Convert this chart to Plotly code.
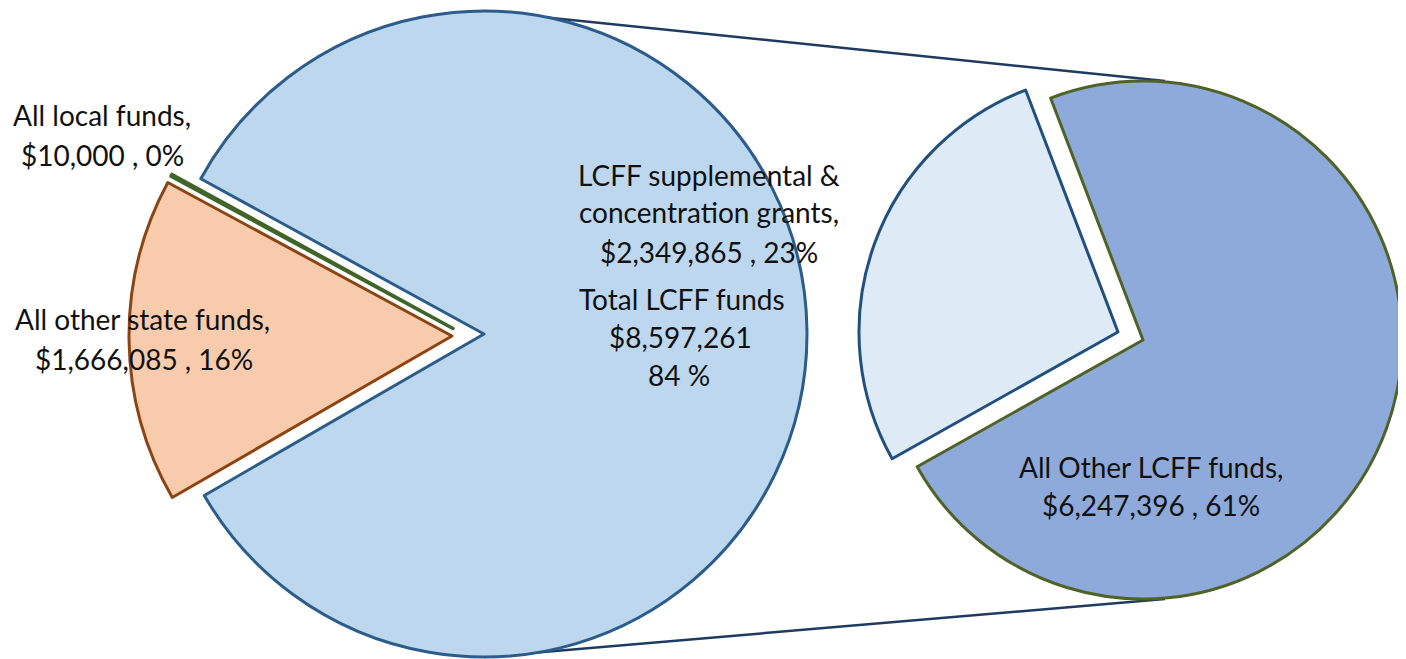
import plotly.graph_objects as go

# page body has an 8px margin; positions below are window pixels and get shifted
OFF = 8
WIN_W, WIN_H = 1406, 659
W, H = WIN_W - OFF, WIN_H - OFF

# ---- data ----
left_labels = ["Total LCFF funds", "All other state funds", "All local funds"]
left_values = [8597261, 1666085, 10000]
right_labels = ["All Other LCFF funds", "LCFF supplemental & concentration grants"]
right_values = [6247396, 2349865]

# label text lines: (text, center-x px, middle-y px)
label_lines = [
    ("All local funds,", 102, 115),
    ("$10,000 , 0%", 102, 155),
    ("All other state funds,", 142, 319),
    ("$1,666,085 , 16%", 144, 359),
    ("LCFF supplemental &", 709, 175),
    ("concentration grants,", 709, 212),
    ("$2,349,865 , 23%", 709, 252),
    ("Total LCFF funds", 682, 299),
    ("$8,597,261", 680, 337),
    ("84 %", 679, 375),
    ("All Other LCFF funds,", 1151, 467),
    ("$6,247,396 , 61%", 1151, 505),
]

# ---- styles ----
TR = "rgba(0,0,0,0)"
blue_fill, blue_line = "#BDD7EE", "#2B5C8A"
orange_fill, orange_line = "#F8CBAD", "#8B4513"
green_line = "#3F6628"
light_fill, light_line = "#DEEBF7", "#22507E"
dark_fill, dark_line = "#8EAADB", "#4F6228"
LW = 3
FONT = dict(family="Lato", size=28, color="#111111")


def px(x):
    return (x - OFF) / W


def py(y):
    return 1 - (y - OFF) / H


def dom(cx, cy, r):
    return dict(x=[px(cx - r), px(cx + r)], y=[py(cy + r), py(cy - r)])


left_total = sum(left_values)
left_rot = 240 - 360 * left_values[0] / left_total
right_total = sum(right_values)
right_rot = 240.7 - 360 * right_values[0] / right_total

fig = go.Figure()

left_parts = [
    ((484, 334), 323, [blue_fill, TR, TR], [blue_line, TR, TR], [LW, 0, 0]),
    ((452, 336), 323, [TR, orange_fill, TR], [TR, orange_line, TR], [0, LW, 0]),
    ((453, 328.5), 320.5, [TR, TR, "#5A7F3A"], [TR, TR, green_line], [0, 0, 3.5]),
]
for (cx, cy), r, fills, lines, widths in left_parts:
    fig.add_trace(go.Pie(
        labels=left_labels, values=left_values, sort=False, direction="clockwise",
        rotation=left_rot, domain=dom(cx, cy, r), textinfo="none", hoverinfo="label+value+percent",
        marker=dict(colors=fills, line=dict(color=lines, width=widths)), showlegend=False,
    ))

RR = 259
right_parts = [
    ((1143, 340), [dark_fill, TR], [dark_line, TR], [LW, 0]),
    ((1118, 332), [TR, light_fill], [TR, light_line], [0, LW]),
]
for (cx, cy), fills, lines, widths in right_parts:
    fig.add_trace(go.Pie(
        labels=right_labels, values=right_values, sort=False, direction="clockwise",
        rotation=right_rot, domain=dom(cx, cy, RR), textinfo="none", hoverinfo="label+value+percent",
        marker=dict(colors=fills, line=dict(color=lines, width=widths)), showlegend=False,
    ))

# connector lines (below pies)
for (x0, y0), (x1, y1) in [((484, 11), (1165, 81)), ((484, 657), (1165, 599))]:
    fig.add_shape(type="line", xref="paper", yref="paper", layer="below",
                  x0=px(x0), y0=py(y0), x1=px(x1), y1=py(y1),
                  line=dict(color="#1F3A60", width=2.5))

for text, cx, cy in label_lines:
    fig.add_annotation(text=text, x=px(cx), y=py(cy), xref="paper", yref="paper",
                       xanchor="center", yanchor="middle", showarrow=False, font=FONT)

fig.update_layout(width=W, height=H, margin=dict(l=0, r=0, t=0, b=0),
                  paper_bgcolor="white", plot_bgcolor="white")
fig.write_html("out.html")
